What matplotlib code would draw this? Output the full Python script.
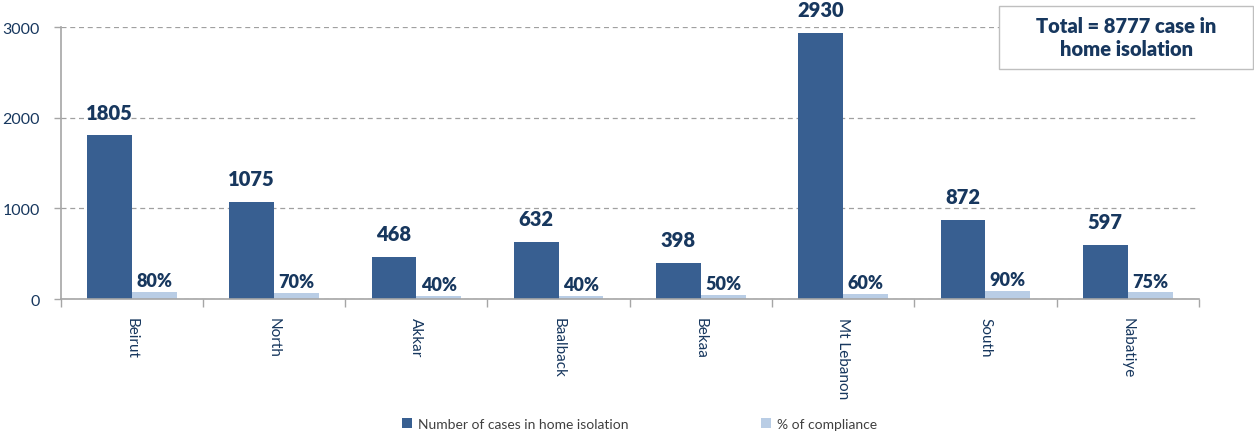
import numpy as np
import matplotlib
matplotlib.use("Agg")
import matplotlib.pyplot as plt
from matplotlib.ticker import FixedLocator
from matplotlib.patches import Rectangle

plt.rcParams['font.family'] = ['Lato', 'DejaVu Sans']

# data
regions = ["Beirut", "North", "Akkar", "Baalback", "Bekaa", "Mt Lebanon", "South", "Nabatiye"]
cases = [1805, 1075, 468, 632, 398, 2930, 872, 597]
compliance = [80, 70, 40, 40, 50, 60, 90, 75]
total_cases = 8777

dark = "#385F91"
light = "#B9CDE5"
navy = "#17375E"
axis_grey = "#A6A6A6"

fig = plt.figure(figsize=(12.54, 4.35), dpi=100)
ax = fig.add_axes([0.0484, 0.310, 0.9076, 0.6256])

x = np.arange(len(regions))
w = 0.315
b1 = ax.bar(x - w / 2, cases, w, color=dark, label="Number of cases in home isolation")
b2 = ax.bar(x + w / 2, compliance, w, color=light, label="% of compliance")

# value labels
for xi, v in zip(x, cases):
    ax.annotate(str(v), (xi - w / 2, v), xytext=(0, 10), textcoords="offset points",
                ha="center", va="bottom", fontsize=14.5, fontweight="heavy", color=navy)
for xi, h, v in zip(x, compliance, compliance):
    ax.annotate("%d%%" % v, (xi + w / 2, h), xytext=(0, 2), textcoords="offset points",
                ha="center", va="bottom", fontsize=13, fontweight="heavy", color=navy)

ax.set_xlim(-0.5, len(regions) - 0.5)
ax.set_ylim(0, 3000)
ax.set_yticks([0, 1000, 2000, 3000])
ax.yaxis.grid(True, linestyle=(0, (4, 3)), color="#A0A0A0", linewidth=0.9)
ax.set_axisbelow(True)

ax.set_xticks(x)
ax.set_xticklabels(regions, rotation=-90, fontsize=11, color=navy)
ax.tick_params(axis="x", which="major", length=0, pad=13)
ax.xaxis.set_minor_locator(FixedLocator(np.arange(-0.5, len(regions), 1.0)))
ax.tick_params(axis="x", which="minor", length=6, color=axis_grey, width=1)
ax.tick_params(axis="y", length=5, color=axis_grey, width=1, labelsize=11.5, labelcolor=navy, pad=10)

for s in ["top", "right"]:
    ax.spines[s].set_visible(False)
for s in ["left", "bottom"]:
    ax.spines[s].set_color(axis_grey)
    ax.spines[s].set_linewidth(1.2)

# total box
fig.add_artist(Rectangle((0.7967, 0.839), 0.2026, 0.145, transform=fig.transFigure,
                         facecolor="white", edgecolor="#BFBFBF", linewidth=1))
fig.text(0.898, 0.912, "Total = %d case in\nhome isolation" % total_cases, ha="center", va="center",
         fontsize=14.5, fontweight="heavy", color=navy, linespacing=1.25)

fig.legend(handles=[b1, b2], loc="lower center", bbox_to_anchor=(0.51, -0.02), ncol=2,
           frameon=False, fontsize=10, handlelength=0.7, handleheight=0.7, handletextpad=0.4,
           columnspacing=9.6, labelcolor="#404040")

fig.savefig("out.png", dpi=100)
